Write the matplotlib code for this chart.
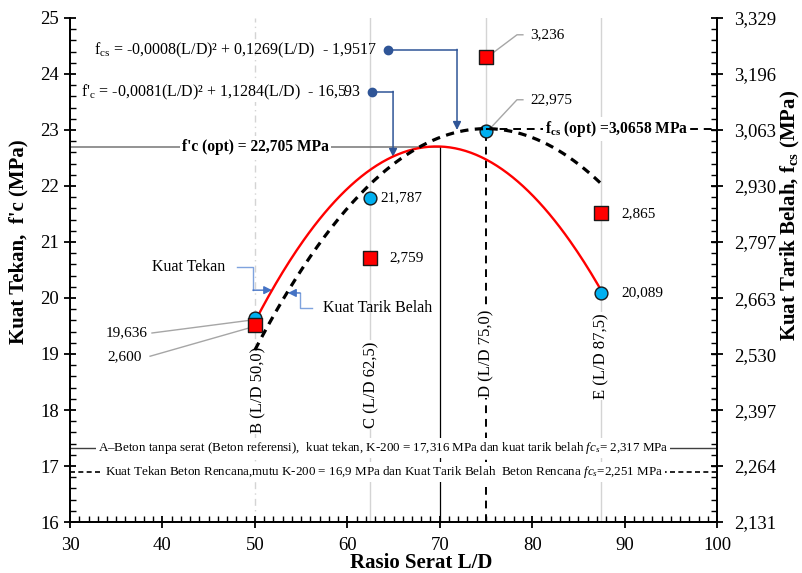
import numpy as np
import matplotlib
matplotlib.use('Agg')
import matplotlib.pyplot as plt
from matplotlib.ticker import FixedLocator, MultipleLocator

plt.rcParams['font.family'] = ['Liberation Serif', 'DejaVu Serif']
plt.rcParams['mathtext.fontset'] = 'custom'
plt.rcParams['mathtext.rm'] = 'Liberation Serif'
plt.rcParams['mathtext.it'] = 'Liberation Serif:italic'
plt.rcParams['mathtext.bf'] = 'Liberation Serif:bold'

# ---------------- data ----------------
ld = [50.0, 62.5, 75.0, 87.5]
group_labels = ['B (L/D 50,0)', 'C (L/D 62,5)', 'D (L/D 75,0)', 'E (L/D 87,5)']
fc_values = [19.636, 21.787, 22.975, 20.089]
fc_labels = ['19,636', '21,787', '22,975', '20,089']
fcs_values = [2.600, 2.759, 3.236, 2.865]
fcs_labels = ['2,600', '2,759', '3,236', '2,865']

fc_coef = [-0.0081, 1.1284, -16.593]          # f'c trend line
fcs_trend_x = [50, 55, 60, 65, 70, 75, 80, 85, 87.5]
fcs_trend_y = [2.540, 2.729, 2.876, 2.982, 3.045, 3.066, 3.045, 2.982, 2.934]

fc_opt_x, fc_opt = 70.0, 22.705
fcs_opt_x, fcs_opt = 75.0, 3.0658
fc_ref = 17.316
fc_plan = 16.9

x_ticks = [30, 40, 50, 60, 70, 80, 90, 100]
left_ticks = [16, 17, 18, 19, 20, 21, 22, 23, 24, 25]
right_ticks = [2.131, 2.264, 2.397, 2.530, 2.663, 2.797, 2.930, 3.063, 3.196, 3.329]
right_tick_labels = ['2,131', '2,264', '2,397', '2,530', '2,663', '2,797',
                     '2,930', '3,063', '3,196', '3,329']

# ---------------- figure ----------------
fig = plt.figure(figsize=(8.03, 5.73), dpi=100)
ax = fig.add_axes([0.0872, 0.089, 0.8057, 0.8796])
ax2 = ax.twinx()

ax.set_xlim(30, 100)
ax.set_ylim(16, 25)
ax2.set_ylim(2.131, 3.329)

for a in (ax, ax2):
    a.spines['top'].set_visible(False)
    for s in a.spines.values():
        s.set_linewidth(1.3)

ax.xaxis.set_major_locator(FixedLocator(x_ticks))
ax.xaxis.set_minor_locator(MultipleLocator(1))
ax.yaxis.set_major_locator(FixedLocator(left_ticks))
ax.yaxis.set_minor_locator(MultipleLocator(0.2))
ax2.yaxis.set_major_locator(FixedLocator(right_ticks))
ax2.set_yticklabels(right_tick_labels)
ax2.yaxis.set_minor_locator(FixedLocator(np.linspace(2.131, 3.329, 46)))

ax.tick_params(axis='both', which='major', direction='inout', length=9, width=1.3,
               labelsize=13.5)
ax.tick_params(axis='both', which='minor', direction='in', length=4, width=1.0)
ax2.tick_params(axis='y', which='major', direction='inout', length=9, width=1.3,
                labelsize=13.5, pad=8)
ax2.tick_params(axis='y', which='minor', direction='in', length=4, width=1.0)
ax.tick_params(axis='x', pad=6)

ax.set_xlabel('Rasio Serat L/D', fontsize=15, fontweight='bold', va='center')
ax.xaxis.set_label_coords(0.5425, -0.082)
ax.set_ylabel("Kuat Tekan,  f'c (MPa)", fontsize=15, fontweight='bold',
              va='center', ha='center')
ax.yaxis.set_label_coords(-0.080, 0.557)
ax2.set_ylabel(r'Kuat Tarik Belah, f$_{\mathbf{cs}}$ (MPa)', fontsize=15,
               fontweight='bold', va='center', ha='center')
ax2.yaxis.set_label_coords(1.113, 0.609)

light = '#d4d4d4'
# vertical guide lines
ax.plot([50, 50], [16, 25], color=light, lw=1, ls=(0, (5, 3, 1, 3)), zorder=1)
ax.plot([62.5, 62.5], [16, 25], color=light, lw=1, zorder=1)
ax.plot([75, 75], [fc_values[2], 25], color=light, lw=1, zorder=1)
ax.plot([75, 75], [16, fc_values[2]], color='black', lw=1.4, dashes=(4, 3), zorder=2)
ax.plot([87.5, 87.5], [16, 25], color=light, lw=1, zorder=1)

# optimum lines
ax.plot([30, fc_opt_x], [fc_opt, fc_opt], color='#808080', lw=1.2, zorder=2)
ax.plot([fc_opt_x, fc_opt_x], [16, fc_opt], color='black', lw=0.9, zorder=2)
ax.text(50.1, fc_opt, "f'c (opt) = 22,705 MPa", fontsize=11.2, fontweight='bold',
        ha='center', va='center', zorder=4,
        bbox=dict(facecolor='white', edgecolor='none', pad=1.5))
ax2.plot([fcs_opt_x, 100], [fcs_opt, fcs_opt], color='black', lw=1.4,
         dashes=(4, 3), zorder=2)
ax2.text(89.1, fcs_opt, r'f$_{\mathbf{cs}}$ (opt) =3,0658 MPa', fontsize=11.2,
         fontweight='bold', ha='center', va='center', zorder=4,
         bbox=dict(facecolor='white', edgecolor='none', pad=1.5))

# reference lines at bottom
ax.plot([30, 100], [fc_ref, fc_ref], color='#404040', lw=1.0, zorder=2)
ax.text(63.87, fc_ref, r'A–Beton tanpa serat (Beton referensi),  kuat tekan, K-200 = 17,316 MPa dan kuat tarik belah $\mathit{fc}_{s}$= 2,317 MPa',
        fontsize=9.4, ha='center', va='center', zorder=4,
        bbox=dict(facecolor='white', edgecolor='none', pad=1.5))
ax.plot([30, 100], [fc_plan, fc_plan], color='black', lw=1.2, dashes=(3, 2), zorder=2)
ax.text(63.98, fc_plan, r'Kuat Tekan Beton Rencana,mutu K-200 = 16,9 MPa dan Kuat Tarik Belah  Beton Rencana $\mathit{fc}_{s}$=2,251 MPa',
        fontsize=9.4, ha='center', va='center', zorder=4,
        bbox=dict(facecolor='white', edgecolor='none', pad=1.5))

# group labels (rotated)
group_label_pos = [(50.35, 18.36), (62.6, 18.45), (75.0, 19.02), (87.5, 18.96)]
for (gx, gy), lab in zip(group_label_pos, group_labels):
    ax.text(gx, gy, lab, rotation=90, fontsize=12, ha='center', va='center',
            zorder=4, bbox=dict(facecolor='white', edgecolor='none', pad=1))

# trend lines
xs = np.linspace(50, 87.5, 200)
ax.plot(xs, np.polyval(fc_coef, xs), color='red', lw=1.7, zorder=5)
fcs_fit = np.polyfit(fcs_trend_x, fcs_trend_y, 2)
ax2.plot(xs, np.polyval(fcs_fit, xs), color='black', lw=2.3, dashes=(2.6, 2.0), zorder=5)

# markers
ax.scatter(ld, fc_values, s=85, color='#00B0F0', edgecolor='#1a1a1a', lw=1.0, zorder=6)
ax2.scatter(ld, fcs_values, s=105, marker='s', color='#FF0000', edgecolor='#1a1a1a',
            lw=1.0, zorder=7)

# value labels
lead = '#a6a6a6'
ax.plot([38.87, 49.69], [19.375, 19.607], color=lead, lw=1.0, zorder=3)
ax.text(38.4, 19.375, fc_labels[0], fontsize=11, ha='right', va='center')
ax.plot([38.66, 49.69], [18.96, 19.48], color=lead, lw=1.0, zorder=3)
ax.text(37.8, 18.96, fcs_labels[0], fontsize=11, ha='right', va='center')
ax.text(63.6, fc_values[1], fc_labels[1], fontsize=11, ha='left', va='center')
ax2.text(64.5, fcs_values[1], fcs_labels[1], fontsize=11, ha='left', va='center')
ax.plot([75.3, 78.36, 79.0], [24.32, 24.70, 24.70], color=lead, lw=1.0, zorder=3)
ax.text(79.8, 24.70, fcs_labels[2], fontsize=11, ha='left', va='center')
ax.plot([75.3, 78.36, 79.0], [23.0, 23.54, 23.54], color=lead, lw=1.0, zorder=3)
ax.text(79.8, 23.54, fc_labels[2], fontsize=11, ha='left', va='center')
ax2.text(89.6, fcs_values[3], fcs_labels[3], fontsize=11, ha='left', va='center')
ax.text(89.7, fc_values[3], fc_labels[3], fontsize=11, ha='left', va='center')

# equation labels with arrows
eqc = '#2F5597'
ax.text(63.2, 24.43, r'f$_{\mathrm{cs}}$ = -0,0008(L/D)² + 0,1269(L/D)  - 1,9517',
        fontsize=11.5, ha='right', va='center')
ax.plot([64.4], [24.43], 'o', color=eqc, ms=6, zorder=6)
ax.plot([64.4, 71.87], [24.43, 24.43], color=eqc, lw=1.1)
ax.annotate('', xy=(71.87, 23.0), xytext=(71.87, 24.44),
            arrowprops=dict(arrowstyle='-|>', color=eqc, lw=1.1, mutation_scale=12,
                            shrinkA=0, shrinkB=0))
ax.text(61.5, 23.68, r"f'$_{\mathrm{c}}$ = -0,0081(L/D)² + 1,1284(L/D)  - 16,593",
        fontsize=11.5, ha='right', va='center', zorder=5,
        bbox=dict(facecolor='white', edgecolor='none', pad=0.5))
ax.plot([62.67], [23.68], 'o', color=eqc, ms=6, zorder=6)
ax.plot([62.67, 64.95], [23.68, 23.68], color=eqc, lw=1.1)
ax.annotate('', xy=(64.95, 22.52), xytext=(64.95, 23.69),
            arrowprops=dict(arrowstyle='-|>', color=eqc, lw=1.1, mutation_scale=12,
                            shrinkA=0, shrinkB=0))

# series callouts
cc = '#7FA3DE'
ax.text(46.77, 20.55, 'Kuat Tekan', fontsize=11.5, ha='right', va='center')
ax.plot([48.07, 49.8, 49.8], [20.55, 20.55, 20.14], color=cc, lw=1.0)
ax.annotate('', xy=(51.86, 20.14), xytext=(49.79, 20.14),
            arrowprops=dict(arrowstyle='-|>', color='#4472C4', lw=1.0, mutation_scale=12,
                            shrinkA=0, shrinkB=0))
ax.text(57.37, 19.82, 'Kuat Tarik Belah', fontsize=11.5, ha='left', va='center')
ax.plot([56.18, 54.88, 54.88], [19.82, 19.82, 20.09], color=cc, lw=1.0)
ax.annotate('', xy=(53.58, 20.09), xytext=(54.89, 20.09),
            arrowprops=dict(arrowstyle='-|>', color='#4472C4', lw=1.0, mutation_scale=12,
                            shrinkA=0, shrinkB=0))

fig.savefig('out.png', dpi=100)
